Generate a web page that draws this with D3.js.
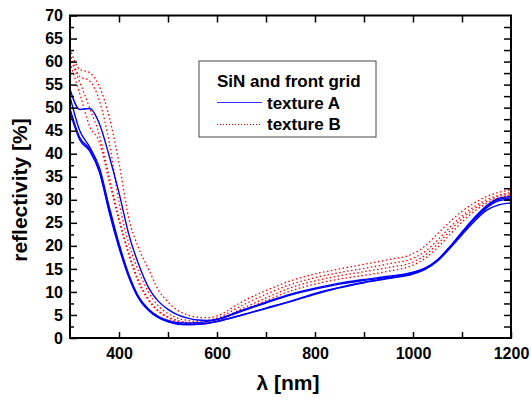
<!DOCTYPE html>
<html>
<head>
<meta charset="utf-8">
<script src="https://cdn.jsdelivr.net/npm/d3@7"></script>
<style>
  body { margin: 0; background: #fff; }
  text { font-family: Arial, "Liberation Sans", sans-serif; font-weight: bold; }
</style>
</head>
<body>
<div id="chart"></div>
<script>
// wavelength grid (nm) shared by all curves
var wavelengths = [300,320,340,360,380,400,420,440,460,480,500,520,540,560,580,600,
                   650,700,750,800,850,900,950,1000,1025,1050,1075,1100,1125,1150,1175,1200];

// texture A (blue, solid)
var textureA1 = [54.0,49.6,49.8,46.5,39.5,31.5,22.5,16.0,11.0,8.0,6.2,5.0,4.3,3.9,3.8,4.1,
                 6.0,7.8,9.5,10.8,11.9,12.7,13.4,14.3,15.2,17.0,19.8,23.0,26.1,28.7,30.3,30.7];
var textureA2 = [52.4,45.0,41.5,37.0,28.5,20.5,13.8,9.0,6.3,4.7,3.8,3.3,3.2,3.3,3.6,4.0,
                 5.8,7.6,9.3,10.6,11.7,12.5,13.2,14.2,15.1,16.9,19.7,22.9,25.9,28.5,30.1,30.4];
var textureA3 = [49.8,43.5,41.0,36.3,27.8,20.0,13.5,8.8,6.1,4.5,3.6,3.1,2.9,3.0,3.2,3.6,
                 5.0,6.5,8.0,9.7,11.0,12.1,13.0,14.0,15.0,16.8,19.6,22.7,25.7,28.2,29.8,30.1];
var textureA4 = [49.0,43.0,40.6,36.0,27.3,19.6,13.2,8.6,6.0,4.4,3.5,3.0,2.9,2.95,3.15,3.55,
                 4.9,6.4,7.9,9.5,10.9,12.0,12.9,13.9,14.9,16.7,19.4,22.4,25.3,27.7,28.9,29.3];

// texture B (red, dotted)
var textureB1 = [62.8,58.3,57.6,54.6,48.0,38.0,26.0,19.5,15.0,10.5,7.8,6.0,5.0,4.5,4.4,4.8,
                 7.8,10.3,12.4,13.9,15.0,16.0,17.0,18.3,20.0,22.6,25.2,27.5,29.3,30.7,31.6,32.2];
var textureB2 = [61.8,56.8,55.8,51.5,42.5,29.5,20.5,14.5,10.0,7.0,5.3,4.3,3.8,3.6,3.8,4.3,
                 7.0,9.5,11.6,13.1,14.2,15.1,16.1,17.3,18.8,21.2,24.0,26.5,28.5,30.0,31.0,31.6];
var textureB3 = [60.8,55.5,50.0,44.0,35.0,26.0,18.5,12.5,8.5,6.0,4.6,3.8,3.4,3.3,3.5,3.9,
                 6.3,8.7,10.9,12.4,13.5,14.4,15.3,16.5,18.0,20.4,23.2,25.9,28.0,29.6,30.7,31.3];
var textureB4 = [59.8,53.0,46.0,42.5,34.0,25.5,18.0,12.0,8.2,5.8,4.4,3.6,3.3,3.2,3.4,3.8,
                 5.9,8.1,10.2,11.7,12.8,13.6,14.5,15.8,17.3,19.6,22.4,25.2,27.5,29.2,30.4,31.0];

var xTickLabels = [400,600,800,1000,1200];
var xMinorTicks = [500,700,900,1100];
var yTickLabels = [0,5,10,15,20,25,30,35,40,45,50,55,60,65,70];
var yMinorTicks = [2.5,7.5,12.5,17.5,22.5,27.5,32.5,37.5,42.5,47.5,52.5,57.5,62.5,67.5];

var legendTitle = "SiN and front grid";
var legendNames = ["texture A","texture B"];

var width = 531, height = 400;
var plotLeft = 70, plotRight = 511, plotTop = 15.5, plotBottom = 338;

var svg = d3.select('#chart')
  .append("svg")
  .attr("width", width)
  .attr("height", height);

var x = d3.scaleLinear().domain([300,1200]).range([plotLeft,plotRight]);
var y = d3.scaleLinear().domain([0,70]).range([plotBottom,plotTop]);

svg.append("clipPath").attr("id","plotclip")
  .append("rect")
  .attr("x", plotLeft).attr("y", plotTop)
  .attr("width", plotRight-plotLeft).attr("height", plotBottom-plotTop);

var line = d3.line()
  .x(function(d,i){ return x(wavelengths[i]); })
  .y(function(d){ return y(d); })
  .curve(d3.curveMonotoneX);

var curves = svg.append("g").attr("clip-path","url(#plotclip)");

[textureB1,textureB2,textureB3,textureB4].forEach(function(s){
  curves.append("path")
    .attr("d", line(s))
    .attr("fill","none")
    .attr("stroke","#ff0000")
    .attr("stroke-width",1.3)
    .attr("stroke-dasharray","1.5,2.5");
});

[textureA1,textureA2,textureA3,textureA4].forEach(function(s){
  curves.append("path")
    .attr("d", line(s))
    .attr("fill","none")
    .attr("stroke","#0000ff")
    .attr("stroke-width",1.4);
});

// axes: ticks point inward
function styleAxis(g){
  g.select(".domain").remove();
  g.selectAll(".tick line").attr("stroke","#000").attr("stroke-width",1.5);
  g.selectAll("text").attr("fill","#000").style("font-size","16px");
}

svg.append("g")
  .attr("transform","translate(" + plotLeft + ",0)")
  .call(d3.axisLeft(y).tickValues(yTickLabels).tickSize(-7).tickPadding(7))
  .call(styleAxis);
svg.append("g")
  .attr("transform","translate(" + plotLeft + ",0)")
  .call(d3.axisLeft(y).tickValues(yMinorTicks).tickSize(-4).tickFormat(""))
  .call(styleAxis);
svg.append("g")
  .attr("transform","translate(" + plotRight + ",0)")
  .call(d3.axisRight(y).tickValues(yMinorTicks.concat(yTickLabels.slice(1,-1))).tickSize(-7).tickFormat(""))
  .call(styleAxis);
svg.append("g")
  .attr("transform","translate(0," + plotBottom + ")")
  .call(d3.axisBottom(x).tickValues(xTickLabels).tickSize(-6).tickPadding(10).tickFormat(d3.format("d")))
  .call(styleAxis);
svg.append("g")
  .attr("transform","translate(0," + plotBottom + ")")
  .call(d3.axisBottom(x).tickValues(xMinorTicks).tickSize(-6).tickFormat(""))
  .call(styleAxis);
svg.append("g")
  .attr("transform","translate(0," + plotTop + ")")
  .call(d3.axisTop(x).tickValues(xTickLabels.slice(0,-1).concat(xMinorTicks)).tickSize(-7).tickFormat(""))
  .call(styleAxis);

// frame
svg.append("rect")
  .attr("x", plotLeft).attr("y", plotTop)
  .attr("width", plotRight-plotLeft).attr("height", plotBottom-plotTop)
  .attr("fill","none")
  .attr("stroke","#000")
  .attr("stroke-width",2);

// axis titles
svg.append("text")
  .attr("transform","translate(27,190) rotate(-90)")
  .attr("text-anchor","middle")
  .style("font-size","21px")
  .text("reflectivity [%]");
svg.append("text")
  .attr("x", 288).attr("y", 390)
  .attr("text-anchor","middle")
  .style("font-size","21px")
  .text("λ [nm]");

// legend
var legend = svg.append("g");
legend.append("rect")
  .attr("x",199).attr("y",61).attr("width",177).attr("height",76)
  .attr("fill","#fff").attr("stroke","#444").attr("stroke-width",1);
legend.append("text")
  .attr("x",217).attr("y",87)
  .style("font-size","17px")
  .text(legendTitle);
legend.append("line")
  .attr("x1",217).attr("x2",262).attr("y1",102.5).attr("y2",102.5)
  .attr("stroke","#3333ff").attr("stroke-width",1.2);
legend.append("text")
  .attr("x",267).attr("y",108.5)
  .style("font-size","17px")
  .text(legendNames[0]);
legend.append("line")
  .attr("x1",217).attr("x2",262).attr("y1",124.5).attr("y2",124.5)
  .attr("stroke","#ff0000").attr("stroke-width",1)
  .attr("stroke-dasharray","1,2");
legend.append("text")
  .attr("x",267).attr("y",129.5)
  .style("font-size","17px")
  .text(legendNames[1]);
</script>
</body>
</html>
